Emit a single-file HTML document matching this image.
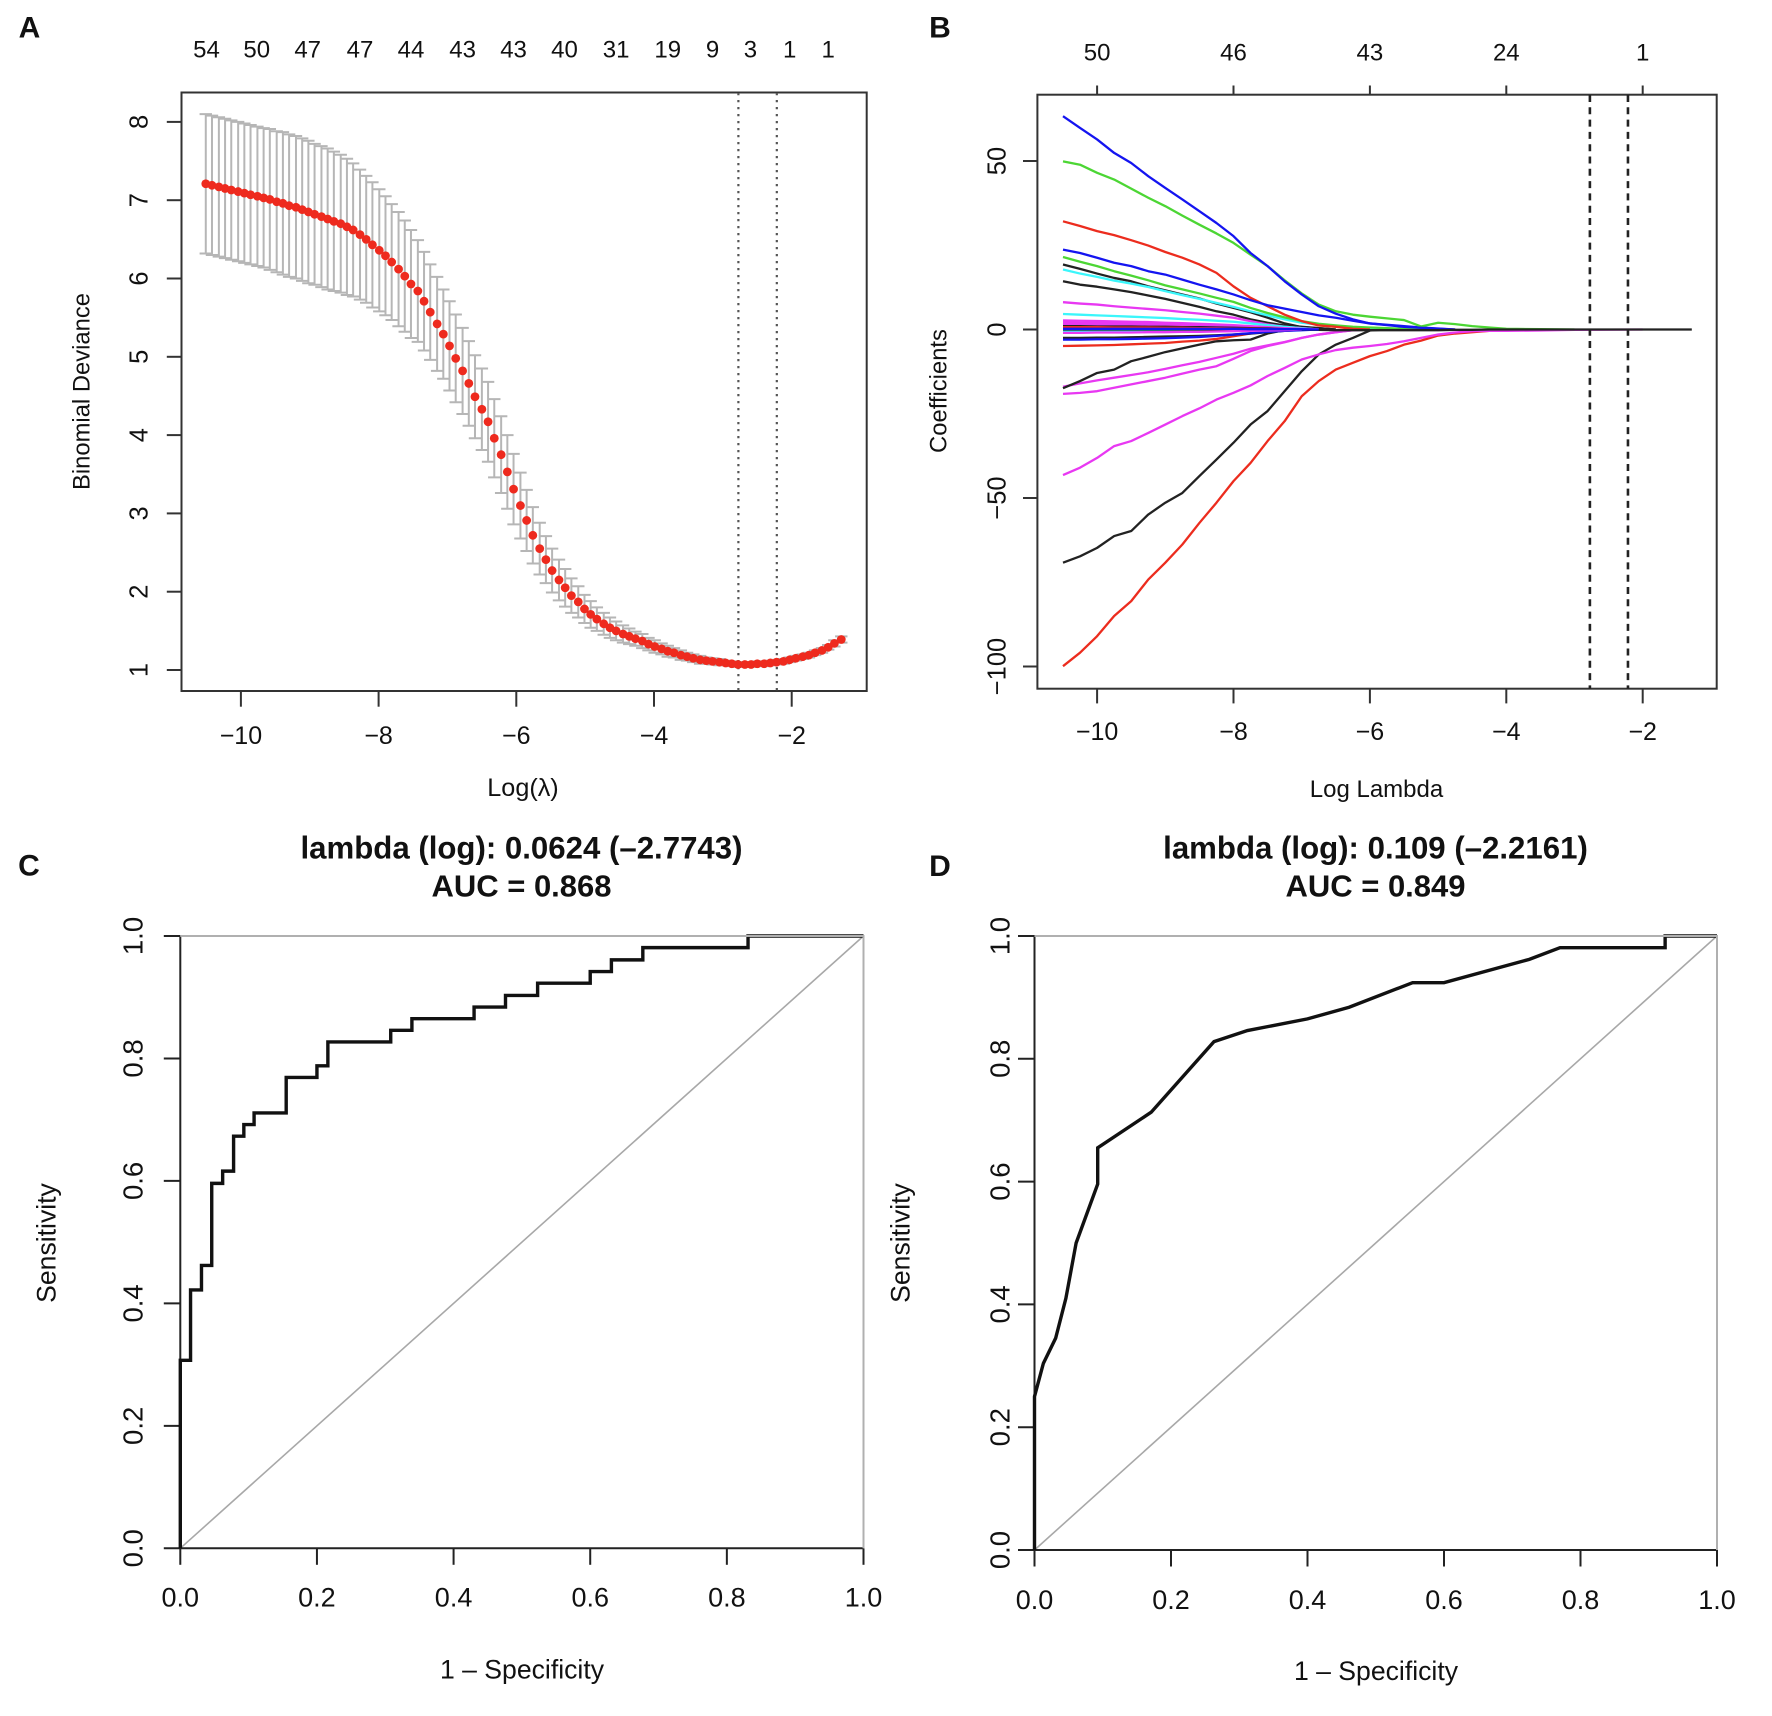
<!DOCTYPE html>
<html lang="en">
<head>
<meta charset="utf-8">
<title>LASSO cross-validation, coefficient paths and ROC curves</title>
<style>
html,body{margin:0;padding:0;background:#fff;}
svg{display:block;font-family:"Liberation Sans",Arial,sans-serif;fill:#111;filter:blur(0.35px);}
</style>
</head>
<body>
<svg id="fig" xmlns="http://www.w3.org/2000/svg" width="1772" height="1716" viewBox="0 0 1772 1716">
  <rect x="0" y="0" width="1772" height="1716" fill="#fff"/>

  <g id="panelA">
    <text x="29.5" y="37.5" font-size="30" font-weight="bold" text-anchor="middle">A</text>
    <rect x="181.5" y="92.5" width="685.2" height="598.5" fill="none" stroke="#333" stroke-width="2"/>
    <text transform="rotate(-90 81 391.5)" x="81" y="400" font-size="23.8" text-anchor="middle">Binomial Deviance</text>
    <text x="523" y="796" font-size="25.2" text-anchor="middle">Log(λ)</text>
  </g>

  <g id="panelB">
    <text x="940" y="37.5" font-size="30" font-weight="bold" text-anchor="middle">B</text>
    <rect x="1037.4" y="94.7" width="679.3" height="594" fill="none" stroke="#333" stroke-width="2"/>
    <text transform="rotate(-90 938 391)" x="938" y="399.5" font-size="23.8" text-anchor="middle">Coefficients</text>
    <text x="1376.5" y="797" font-size="24" text-anchor="middle">Log Lambda</text>
  </g>

  <g id="panelC">
    <text x="29" y="875.5" font-size="30" font-weight="bold" text-anchor="middle">C</text>
    <text x="521.5" y="858.5" font-size="31.2" font-weight="bold" text-anchor="middle">lambda (log): 0.0624 (–2.7743)</text>
    <text x="521.5" y="896.5" font-size="31" font-weight="bold" text-anchor="middle">AUC = 0.868</text>
    <text transform="rotate(-90 46.5 1243)" x="46.5" y="1252" font-size="26.6" text-anchor="middle">Sensitivity</text>
    <text x="522" y="1678.5" font-size="26.6" text-anchor="middle">1 – Specificity</text>
  </g>

  <g id="panelD">
    <text x="940" y="876" font-size="30" font-weight="bold" text-anchor="middle">D</text>
    <text x="1375.5" y="858.5" font-size="31.2" font-weight="bold" text-anchor="middle">lambda (log): 0.109 (–2.2161)</text>
    <text x="1375.5" y="896.5" font-size="31" font-weight="bold" text-anchor="middle">AUC = 0.849</text>
    <text transform="rotate(-90 900.5 1243)" x="900.5" y="1252" font-size="26.6" text-anchor="middle">Sensitivity</text>
    <text x="1376" y="1680" font-size="26.6" text-anchor="middle">1 – Specificity</text>
  </g>
</svg>

<script>
/* ---------- Panel A data ---------- */
const cvLogLambda = [-10.51,-10.42,-10.32,-10.23,-10.14,-10.04,-9.95,-9.86,-9.76,-9.67,-9.58,-9.48,-9.39,-9.30,-9.20,-9.11,-9.02,-8.93,-8.83,-8.74,-8.65,-8.55,-8.46,-8.37,-8.27,-8.18,-8.09,-7.99,-7.90,-7.81,-7.71,-7.62,-7.53,-7.43,-7.34,-7.25,-7.15,-7.06,-6.97,-6.88,-6.78,-6.69,-6.60,-6.50,-6.41,-6.32,-6.22,-6.13,-6.04,-5.94,-5.85,-5.76,-5.66,-5.57,-5.48,-5.38,-5.29,-5.20,-5.10,-5.01,-4.92,-4.83,-4.73,-4.64,-4.55,-4.45,-4.36,-4.27,-4.17,-4.08,-3.99,-3.89,-3.80,-3.71,-3.61,-3.52,-3.43,-3.33,-3.24,-3.15,-3.05,-2.96,-2.87,-2.78,-2.68,-2.59,-2.50,-2.40,-2.31,-2.22,-2.12,-2.03,-1.94,-1.84,-1.75,-1.66,-1.56,-1.47,-1.38,-1.28];
const cvMean = [7.21,7.19,7.17,7.15,7.13,7.11,7.09,7.07,7.05,7.03,7.01,6.98,6.96,6.93,6.91,6.88,6.85,6.82,6.79,6.76,6.73,6.70,6.66,6.62,6.56,6.50,6.43,6.36,6.29,6.21,6.12,6.03,5.93,5.84,5.71,5.57,5.42,5.29,5.14,4.98,4.82,4.66,4.49,4.33,4.17,3.96,3.75,3.53,3.31,3.10,2.91,2.72,2.55,2.41,2.27,2.15,2.05,1.95,1.87,1.78,1.71,1.65,1.59,1.54,1.50,1.46,1.43,1.40,1.37,1.33,1.30,1.27,1.24,1.22,1.19,1.17,1.15,1.13,1.12,1.11,1.10,1.09,1.08,1.07,1.07,1.07,1.08,1.08,1.09,1.10,1.11,1.13,1.15,1.17,1.19,1.22,1.25,1.29,1.34,1.39];
const cvSpread = [.89,.89,.89,.89,.89,.89,.89,.89,.89,.89,.90,.90,.91,.91,.91,.91,.91,.90,.90,.90,.89,.88,.87,.85,.83,.81,.80,.78,.76,.74,.73,.71,.69,.65,.63,.61,.60,.57,.57,.56,.55,.54,.53,.52,.51,.50,.49,.47,.45,.42,.39,.36,.33,.30,.28,.26,.24,.22,.20,.18,.17,.15,.14,.13,.12,.11,.10,.09,.09,.08,.08,.07,.07,.06,.06,.05,.05,.05,.04,.04,.04,.03,.03,.03,.03,.03,.03,.03,.03,.03,.03,.03,.03,.03,.03,.03,.03,.03,.04,.04];
const cvXTicks = [-10,-8,-6,-4,-2];
const cvYTicks = [1,2,3,4,5,6,7,8];
const cvCountPositions = [-10.50,-9.77,-9.03,-8.27,-7.53,-6.78,-6.04,-5.30,-4.55,-3.80,-3.15,-2.60,-2.03,-1.47];
const cvCountLabels = ["54","50","47","47","44","43","43","40","31","19","9","3","1","1"];
const selectedLogLambda = [-2.7743,-2.2161];

/* ---------- Panel B data ---------- */
const lassoGrid = [-10.5,-10.25,-10,-9.75,-9.5,-9.25,-9,-8.75,-8.5,-8.25,-8,-7.75,-7.5,-7.25,-7,-6.75,-6.5,-6.25,-6,-5.75,-5.5,-5.25,-5,-4.75,-4.5,-4.25,-4,-3.5,-3,-2,-1.28];
const coefBlueTop = [63.3,59.8,56.4,52.4,49.4,45.5,42,38.6,35.1,31.6,27.7,22.7,18.8,14.3,10.4,6.9,4.7,3,1.8,1.3,.8,.5,.2];
const coefGreenTop = [49.9,48.9,46.5,44.5,41.8,39.1,36.6,33.8,31.1,28.5,25.7,22.2,18.8,14.6,10.7,7.4,5.4,4.4,3.8,3.3,2.8,.9,2.0,1.6,1.0,.6,.2,.1];
const coefRedTop = [32.1,30.7,29.2,28,26.5,24.9,23,21.3,19.3,16.8,12.8,9.4,6.9,4.4,2.5,1.2,.8,.2];
const coefBlue2 = [23.7,22.7,21.3,19.8,18.8,17.3,16.3,14.8,13.3,11.9,10.4,8.7,7.2,6.2,5.2,4.2,3.5,2.6,1.8,1.4,1,.6,.3];
const coefGreen2 = [21.5,20.1,18.8,17.3,16,14.6,13.1,11.9,10.7,9.4,8.2,6.4,4.9,3.6,2.5,1.7,1.2,.8,.6,.4,.2];
const coefBlack1 = [19.3,18,16.6,15.3,14.3,12.8,11.6,10.4,9.2,7.7,6.4,5.1,3.5,1.8,.7,.4];
const coefCyan1 = [17.8,16.6,15.6,14.5,13.6,12.6,11.4,10.2,9.1,7.9,6.7,5.4,4.2,3,2,1.4,1,.6,.3];
const coefBlack2 = [14.3,13.3,12.7,11.9,11.1,10.1,9.1,7.9,6.7,5.4,4.4,3,2,1.2,.8,.4];
const coefMagenta8 = [8.1,7.7,7.4,6.9,6.5,6.1,5.7,5.2,4.7,4.1,3.5,2.5,1.5,.8,.4];
const coefCyan2 = [4.6,4.4,4.2,4,3.8,3.6,3.4,3.1,2.9,2.6,2.3,1.8,1.3,.8,.4];
const coefRedNeg5 = [-4.9,-4.8,-4.7,-4.6,-4.4,-4.2,-4,-3.6,-3.3,-2.8,-2,-1.2,-.3];
const coefBlackNeg17 = [-17.4,-15.3,-12.9,-11.9,-9.4,-8.1,-6.7,-5.6,-4.5,-3.5,-3.2,-3,-1.2,-.2];
const coefMagentaNeg17 = [-17,-16,-15.1,-14.3,-13.5,-12.7,-11.7,-10.6,-9.6,-8.4,-7.2,-5.7,-4.7,-3.7,-2.5,-1.5,-.8,-.2];
const coefMagentaNeg19 = [-19.1,-18.8,-18.3,-17.3,-16.3,-15.3,-14.3,-13.1,-11.9,-10.9,-8.7,-6.4,-4.9,-3.8,-2.5,-1.5,-.8,-.2];
const coefMagentaNeg43 = [-43.2,-41,-38.1,-34.6,-33.1,-30.7,-28.2,-25.7,-23.4,-20.8,-18.8,-16.6,-13.8,-11.4,-8.9,-7.4,-6.1,-5.4,-4.9,-4.3,-3.5,-2.5,-1.5,-.9,-.5,-.4,-.4,-.3,-.1];
const coefBlackNeg69 = [-69.2,-67.3,-64.8,-61.3,-59.8,-54.9,-51.4,-48.5,-43.5,-38.6,-33.6,-28.2,-24.2,-18.3,-12.4,-7.4,-4.5,-2.5,-.3];
const coefRedNeg100 = [-99.9,-95.9,-91,-85,-80.6,-74.2,-69.2,-63.8,-57.4,-51.4,-45,-39.6,-33.1,-27.2,-19.8,-15.3,-11.9,-9.9,-7.9,-6.4,-4.5,-3.3,-1.8,-1.2,-.8,-.4,-.1];
const coefMagentaSmall1 = [2.7,2.6,2.5,2.4,2.3,2.2,2,1.9,1.7,1.5,1.3,1,.7,.4,.2];
const coefMagentaSmall2 = [2.1,2,1.9,1.9,1.8,1.7,1.6,1.5,1.3,1.2,1,.8,.5,.3,.1];
const coefMagentaSmall3 = [1.6,1.6,1.5,1.5,1.4,1.3,1.2,1.1,1,.9,.8,.6,.4,.2];
const coefBlackSmall = [1,1,.9,.9,.9,.8,.8,.7,.7,.6,.5,.4,.3,.1];
const coefRedSmall = [.7,.7,.7,.6,.6,.6,.5,.5,.4,.4,.3,.2,.1];
const coefGreenSmall = [-.3,-.3,-.3,-.3,-.2,-.2,-.2,-.2,-.1,-.1,-.1];
const coefCyanSmall = [-.5,-.5,-.4,-.4,-.4,-.4,-.3,-.3,-.3,-.2,-.2,-.1];
const coefMagentaSmallNeg = [-1,-1,-.9,-.9,-.9,-.8,-.8,-.7,-.7,-.6,-.5,-.4,-.3,-.2];
const coefBlackNeg3 = [-2.5,-2.5,-2.4,-2.4,-2.3,-2.2,-2.1,-2,-1.9,-1.7,-1.5,-1.2,-.8,-.4,-.1];
const coefBlueNeg3 = [-3,-3,-2.9,-2.9,-2.8,-2.7,-2.6,-2.4,-2.2,-1.9,-1.5,-1.1,-.7,-.4,-.2];
const coefBlueNear0 = [.2,.2,.2,.2,.2,.2,.2,.2,.2,.2,.2,.1,.1,.1,.1];
const coefBlackTail = [0,0,0,0,0,0,0,0,0,0,0,0,0,0,0,-.1,-.2,-.2,-.2,-.2,-.2,-.2,-.2,-.1,-.1,0,0,0,0,0,0];
const coefColors = {black:"#222",red:"#ec2c1e",green:"#4cd634",blue:"#1414f0",cyan:"#3bf6fb",magenta:"#e838f2"};
const coefSeries = [
  ["red",coefRedNeg100],["black",coefBlackNeg69],["magenta",coefMagentaNeg43],
  ["magenta",coefMagentaNeg19],["magenta",coefMagentaNeg17],["black",coefBlackNeg17],
  ["black",coefBlack1],["cyan",coefCyan1],["green",coefGreen2],["red",coefRedTop],
  ["blue",coefBlue2],["black",coefBlack2],["green",coefGreenTop],["blue",coefBlueTop],
  ["magenta",coefMagenta8],["cyan",coefCyan2],["red",coefRedNeg5],
  ["black",coefBlackNeg3],["blue",coefBlueNeg3],
  ["magenta",coefMagentaSmall1],["magenta",coefMagentaSmall2],["magenta",coefMagentaSmall3],
  ["black",coefBlackSmall],["red",coefRedSmall],["green",coefGreenSmall],["cyan",coefCyanSmall],
  ["black",coefBlackTail],["magenta",coefMagentaSmallNeg],["blue",coefBlueNear0]
];
const coefXTicks = [-10,-8,-6,-4,-2];
const coefYTicks = [50,0,-50,-100];
const coefTopLabels = ["50","46","43","24","1"];

/* ---------- Panels C / D data ---------- */
const rocCX = [0,0,.015,.015,.031,.031,.046,.046,.062,.062,.078,.078,.093,.093,.108,.108,.155,.155,.2,.2,.216,.216,.308,.308,.339,.339,.43,.43,.476,.476,.523,.523,.6,.6,.631,.631,.677,.677,.831,.831,1];
const rocCY = [0,.307,.307,.422,.422,.462,.462,.596,.596,.616,.616,.673,.673,.692,.692,.711,.711,.769,.769,.788,.788,.827,.827,.846,.846,.865,.865,.884,.884,.903,.903,.923,.923,.942,.942,.961,.961,.981,.981,1,1];
const rocDX = [0,0,.013,.031,.046,.061,.0926,.0926,.171,.263,.312,.4,.461,.554,.6,.725,.77,.924,.924,1];
const rocDY = [0,.25,.304,.345,.41,.5,.596,.655,.713,.828,.846,.865,.884,.924,.924,.962,.981,.981,1,1];
const rocTicks = [0,.2,.4,.6,.8,1];
const rocTickLabels = ["0.0","0.2","0.4","0.6","0.8","1.0"];

/* ---------- Drawing helpers ---------- */
const NS = "http://www.w3.org/2000/svg";
function draw(parent, tag, attrs, name) {
  const el = document.createElementNS(NS, tag);
  for (const k in attrs) el.setAttribute(k, attrs[k]);
  
  
  parent.appendChild(el);
  return el;
}
function label(parent, str, cx, cy, size, rotated, name) {
  const a = {x:cx, y:cy + 0.35*size, "font-size":size, "text-anchor":"middle"};
  if (rotated) a.transform = "rotate(-90 " + cx + " " + cy + ")";
  const el = draw(parent, "text", a, name);
  el.textContent = str;
  return el;
}
function fmtNeg(v){ return v < 0 ? "\u2212" + Math.abs(v) : String(v); }

/* ---------- Panel A ---------- */
(function(){
  const g = document.getElementById("panelA");
  const x = v => 240.9 + (v + 10) * 68.85;
  const y = v => 670 - (v - 1) * 78.3;
  const ax = 691, ay = 181.5;
  cvXTicks.forEach(t => {
    draw(g,"line",{x1:x(t),x2:x(t),y1:ax,y2:ax+15.7,stroke:"#333","stroke-width":2},"x-axis-tick");
    label(g,fmtNeg(t),x(t),735,25,false,"x-tick-label");
  });
  cvYTicks.forEach(t => {
    draw(g,"line",{x1:ay-14.7,x2:ay,y1:y(t),y2:y(t),stroke:"#333","stroke-width":2},"y-axis-tick");
    label(g,String(t),138.6,y(t),25.5,true,"y-tick-label");
  });
  cvCountPositions.forEach((p,i) => {
    label(g,cvCountLabels[i],x(p),49,24,false,"nonzero-count-label");
  });
  cvLogLambda.forEach((v,i) => {
    const up = y(cvMean[i]+cvSpread[i]), lo = y(cvMean[i]-cvSpread[i]), px = x(v);
    const s = {stroke:"#b6b6b6","stroke-width":2,fill:"none"};
    draw(g,"path",Object.assign({d:"M"+px+" "+up+"V"+lo+"M"+(px-6.2)+" "+up+"H"+(px+6.2)+"M"+(px-6.2)+" "+lo+"H"+(px+6.2)},s),"error-bar");
  });
  selectedLogLambda.forEach(v => {
    draw(g,"line",{x1:x(v),x2:x(v),y1:93,y2:691,stroke:"#555","stroke-width":2.2,"stroke-dasharray":"2.2 4.8"},"selected-lambda-line");
  });
  cvLogLambda.forEach((v,i) => {
    draw(g,"circle",{cx:x(v),cy:y(cvMean[i]),r:4.4,fill:"#ee2a1e"},"cv-mean-point");
  });
})();

/* ---------- Panel B ---------- */
(function(){
  const g = document.getElementById("panelB");
  const x = v => 1097.1 + (v + 10) * 68.2;
  const y = v => 329.5 - v * 3.37;
  coefXTicks.forEach((t,i) => {
    draw(g,"line",{x1:x(t),x2:x(t),y1:688.7,y2:703.4,stroke:"#333","stroke-width":2},"x-axis-tick");
    label(g,fmtNeg(t),x(t),731,25,false,"x-tick-label");
    draw(g,"line",{x1:x(t),x2:x(t),y1:85.5,y2:94.7,stroke:"#333","stroke-width":2},"top-axis-tick");
    label(g,coefTopLabels[i],x(t),52,24,false,"nonzero-count-label");
  });
  coefYTicks.forEach(t => {
    draw(g,"line",{x1:1023,x2:1037.4,y1:y(t),y2:y(t),stroke:"#333","stroke-width":2},"y-axis-tick");
    label(g,fmtNeg(t),996.6,y(t),25.5,true,"y-tick-label");
  });
  coefSeries.forEach(s => {
    const vals = s[1];
    let d = "";
    vals.forEach((v,i) => { d += (i ? "L" : "M") + x(lassoGrid[i]) + " " + y(v); });
    if (vals.length < lassoGrid.length) d += "L" + x(lassoGrid[vals.length]) + " " + y(0);
    draw(g,"path",{d:d,fill:"none",stroke:coefColors[s[0]],"stroke-width":2.3,"stroke-linejoin":"round"},"coefficient-path");
  });
  selectedLogLambda.forEach(v => {
    draw(g,"line",{x1:x(v),x2:x(v),y1:95,y2:688.7,stroke:"#222","stroke-width":2.6,"stroke-dasharray":"7 5.3"},"selected-lambda-line");
  });
})();

/* ---------- Panels C, D ---------- */
function rocPanel(id, x0, x1, y0, y1, tickLabelY, tickLabelX, xs, ys) {
  const g = document.getElementById(id);
  const x = v => x0 + v * (x1 - x0);
  const y = v => y0 - v * (y0 - y1);
  draw(g,"line",{x1:x(0),y1:y(0),x2:x(1),y2:y(1),stroke:"#a8a8a8","stroke-width":1.6},"chance-diagonal");
  draw(g,"line",{x1:x(0),x2:x(1),y1:y(0),y2:y(0),stroke:"#222","stroke-width":2},"x-axis-line");
  draw(g,"line",{x1:x(0),x2:x(0),y1:y(0),y2:y(1),stroke:"#222","stroke-width":2},"y-axis-line");
  rocTicks.forEach((t,i) => {
    draw(g,"line",{x1:x(t),x2:x(t),y1:y(0),y2:y(0)+16.5,stroke:"#222","stroke-width":2},"x-axis-tick");
    draw(g,"line",{x1:x(0)-16.5,x2:x(0),y1:y(t),y2:y(t),stroke:"#222","stroke-width":2},"y-axis-tick");
    label(g,rocTickLabels[i],x(t),tickLabelY,27,false,"x-tick-label");
    label(g,rocTickLabels[i],tickLabelX,y(t),27.5,true,"y-tick-label");
  });
  let d = "";
  xs.forEach((v,i) => { d += (i ? "L" : "M") + x(v) + " " + y(ys[i]); });
  draw(g,"path",{d:d,fill:"none",stroke:"#111","stroke-width":3.4,"stroke-linejoin":"miter"},"roc-curve");
  draw(g,"path",{d:"M"+x(0)+" "+y(1)+"H"+x(1)+"V"+y(0),fill:"none",stroke:"#b0b0b0","stroke-width":2},"roc-top-right-border");
}
rocPanel("panelC",180.3,863.5,1548.3,936,1597,132.7,rocCX,rocCY);
rocPanel("panelD",1034.5,1717,1550,936,1599.5,1000,rocDX,rocDY);
</script>
</body>
</html>
